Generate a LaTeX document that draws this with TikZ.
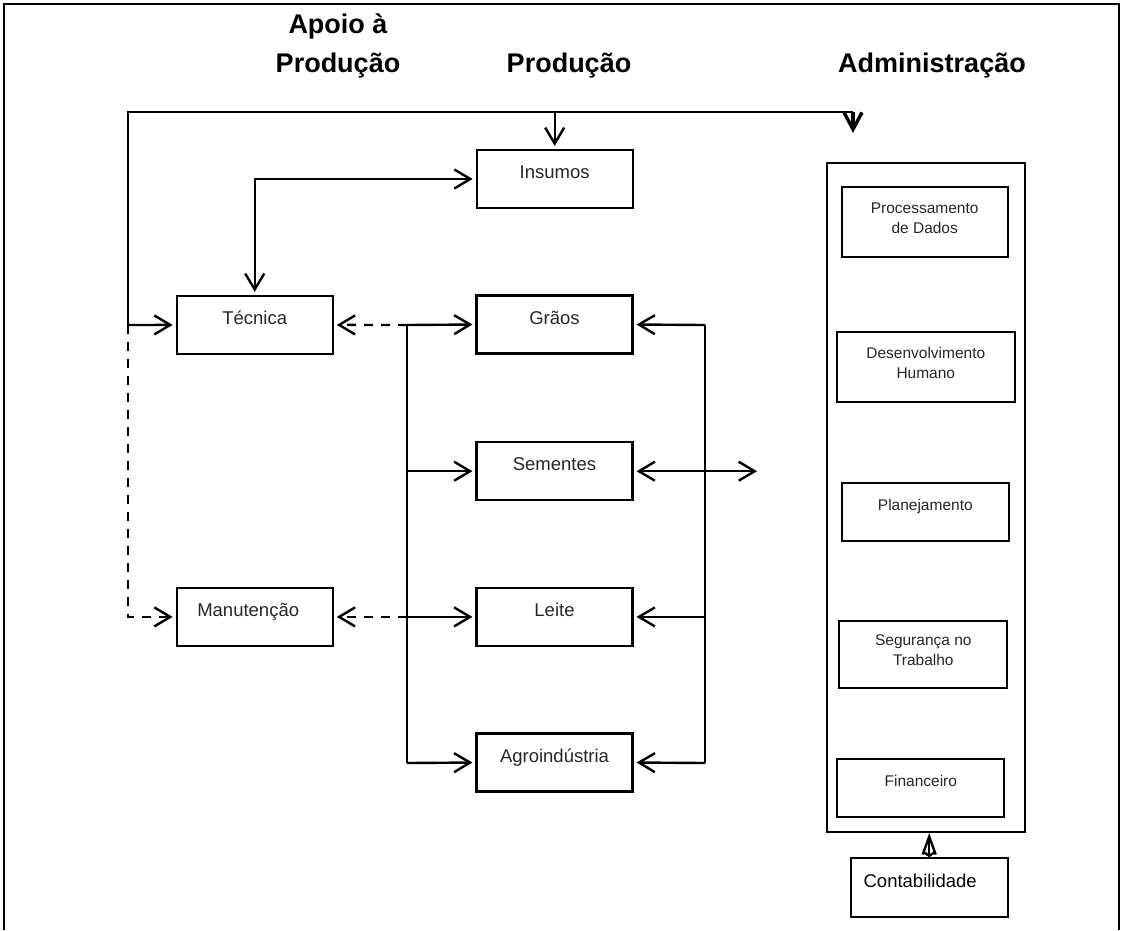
\documentclass[tikz,border=0pt]{standalone}
\usepackage{fontspec}
\setmainfont{Liberation Sans}
\usetikzlibrary{arrows.meta}
\begin{document}
\begin{tikzpicture}[x=1pt,y=-1pt,
  >={Straight Barb[length=16pt,width=19pt]},
  conn/.style={line width=2.4pt},
  arrowto/.style={conn,->,shorten >=3pt},
  arrowboth/.style={conn,<->,shorten >=3pt,shorten <=3pt},
  dashconn/.style={conn,dash pattern=on 9pt off 8pt,->,shorten >=3pt},
  box/.style={draw,line width=2.1pt,inner sep=0pt,minimum width=156pt,minimum height=58pt,
    font=\fontsize{18.5}{22}\selectfont,text=black!85,text height=13pt,text depth=14pt},
  adbox/.style={draw,line width=2.1pt,inner sep=0pt,
    font=\fontsize{15.5}{20.5}\selectfont,text=black!85},
  adone/.style={adbox,text height=12pt,text depth=14.5pt},
  adtwo/.style={adbox,text height=12pt,text depth=30pt},
  heading/.style={anchor=base,font=\fontsize{27}{32}\selectfont\bfseries}
]
\useasboundingbox (0,0) rectangle (1122,930);
% page frame, open at the bottom
\draw[line width=1.6pt] (4,930) -- (4,4) -- (1119,4) -- (1119,930);

% column headings
\node[heading] (h1a) at (338,33) {Apoio à};
\node[heading] (h1b) at (338,72) {Produção};
\node[heading] (h2) at (569,72) {Produção};
\node[heading] (h3) at (932,72) {Administração};

% production
\node[box] (insumos) at (554.7,179) {Insumos};
\node[box] (graos) at (554.5,324.5) {Grãos};
\node[box] (sementes) at (554.5,471.2) {Sementes};
\node[box] (leite) at (554.5,616.9) {Leite};
\node[box] (agro) at (554.5,762.5) {Agroindústria};

% production support
\node[box] (tecnica) at (254.7,324.9) {Técnica};
\node[box] (manut) at (254.7,616.9) {\hspace*{-13pt}Manutenção};

% administration
\node[draw,line width=2.1pt,minimum width=198.6pt,minimum height=669.3pt,inner sep=0pt] (admin) at (926,497.3) {};
\node[adtwo,minimum width=166pt,minimum height=69.4pt] (proc) at (924.7,222)
  {\begin{tabular}[t]{@{}c@{}}Processamento\\de Dados\end{tabular}};
\node[adtwo,minimum width=178.3pt,minimum height=70.6pt] (desenv) at (925.8,367)
  {\begin{tabular}[t]{@{}c@{}}Desenvolvimento\\Humano\end{tabular}};
\node[adone,minimum width=167.3pt,minimum height=58.3pt] (plan) at (925.3,511.8) {Planejamento};
\node[adtwo,minimum width=168pt,minimum height=66.7pt] (seg) at (923.3,654.3)
  {\begin{tabular}[t]{@{}c@{}}Segurança no\\Trabalho\end{tabular}};
\node[adone,minimum width=167pt,minimum height=57.7pt] (fin) at (920.8,788.1) {Financeiro};
\node[box,text=black,minimum width=157pt,minimum height=58.4pt] (conta) at (929.2,887.5) {\hspace*{-18pt}Contabilidade};

% feed line along the top
\coordinate (busL) at (128,325);
\coordinate (topR) at (853,112);
\coordinate (admTip) at (853,133);
\draw[conn] (busL) |- (topR);
\draw[line width=3.4pt,-{Straight Barb[length=17pt,width=18pt]}] (topR) -- (admTip);
\draw[arrowto] (insumos.north |- topR) -- (insumos.north);
\draw[arrowto] (busL) -- (tecnica.west);
\draw[dashconn] (busL) |- (manut.west);
\draw[arrowboth] (tecnica.north) |- (insumos.west);

% left distribution bus
\coordinate (lbT) at (407,325);
\coordinate (lbB) at (407,763);
\draw[conn] (lbT) -- (lbB);
\draw[arrowto] (lbT) -- (graos.west);
\draw[arrowto] (sementes.west -| lbT) -- (sementes.west);
\draw[arrowto] (leite.west -| lbT) -- (leite.west);
\draw[arrowto] (lbB) -- (agro.west);
\draw[dashconn] (lbT) -- (tecnica.east);
\draw[dashconn] (manut.east -| lbT) -- (manut.east);

% right distribution bus
\coordinate (rbT) at (705,325);
\coordinate (rbB) at (705,763);
\coordinate (semR) at (760,471.2);
\draw[conn] (rbT) -- (rbB);
\draw[arrowto] (rbT) -- (graos.east);
\draw[arrowto] (leite.east -| rbT) -- (leite.east);
\draw[arrowto] (rbB) -- (agro.east);
\draw[arrowboth] (sementes.east) -- (semR);

% accounting link
\draw[line width=2.4pt,{Straight Barb[length=4pt,width=12pt]}-{Straight Barb[length=18pt,width=13pt]}]
  (conta.north) -- (conta.north |- admin.south);
\end{tikzpicture}
\end{document}
